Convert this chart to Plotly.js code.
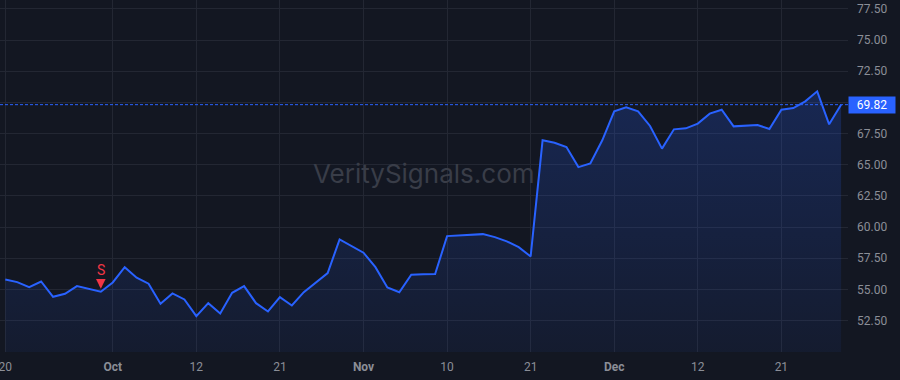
<!DOCTYPE html>
<html><head><meta charset="utf-8">
<script src="https://cdn.plot.ly/plotly-3.0.1.min.js"></script>
<style>html,body{margin:0;padding:0;background:#131722;}#chart{width:900px;height:380px;}</style>
</head><body><div id="chart"></div>
<script>
// closing prices, one per trading session (index = session number)
const prices = [55.79,55.58,55.17,55.63,54.40,54.64,55.26,55.01,54.81,55.55,56.78,55.93,
  55.45,53.84,54.67,54.19,52.85,53.89,53.06,54.72,55.26,53.89,53.22,54.37,
  53.70,54.77,55.53,56.30,59.01,58.47,57.94,56.78,55.15,54.77,56.17,56.20,
  56.22,59.27,59.31,59.38,59.43,59.19,58.85,58.39,57.64,66.96,66.76,66.42,
  64.81,65.11,66.96,69.29,69.61,69.29,68.11,66.29,67.84,67.92,68.30,69.10,
  69.41,68.08,68.11,68.19,67.87,69.42,69.55,70.09,70.89,68.24,69.82];
const tickIdx  = [0, 9, 16, 23, 30, 37, 44, 51, 58, 65];
const tickText = ['20','<b>Oct</b>','12','21','<b>Nov</b>','10','21','<b>Dec</b>','12','21'];
const yTicks   = [52.5,55,57.5,60,62.5,65,67.5,70,72.5,75,77.5];
const yTickText = ['52.50','55.00','57.50','60.00','62.50','65.00','67.50','','72.50','75.00','77.50'];
const signalIdx  = [8];
const signalText = ['S'];
const watermark = 'VeritySignals.com';

const lastPrice = prices[prices.length-1];
const yRange = [49.97, 78.22];
const xIdx = prices.map((_, i) => i);

const trace = {
  x: xIdx, y: prices, type: 'scatter', mode: 'lines',
  line: {color: '#2962ff', width: 2},
  fill: 'tozeroy',
  fillgradient: {type: 'vertical', start: yRange[0], stop: Math.max(...prices),
    colorscale: [[0, 'rgba(41,98,255,0.06)'], [1, 'rgba(41,98,255,0.22)']]},
  hoverinfo: 'skip'
};

const annotations = [
  {xref: 'paper', yref: 'paper', x: 0.5, y: 0.5, yshift: 3, text: watermark, showarrow: false,
   font: {family: 'Inter, Roboto, sans-serif', size: 26, color: '#393d48'}},
  {xref: 'paper', yref: 'y', x: 1, xanchor: 'left', y: lastPrice, text: lastPrice.toFixed(2), showarrow: false,
   bgcolor: '#2962ff', borderpad: 1, width: 44, align: 'center',
   font: {family: 'Roboto, sans-serif', size: 12, color: '#ffffff'}}
];
signalIdx.forEach((idx, k) => {
  annotations.push({x: xIdx[idx], y: prices[idx], xref: 'x', yref: 'y', text: signalText[k],
    showarrow: false, yshift: 22, font: {family: 'Roboto, sans-serif', size: 14, color: '#f23645'}});
  annotations.push({x: xIdx[idx], y: prices[idx], xref: 'x', yref: 'y', text: '',
    showarrow: true, arrowhead: 2, arrowsize: 0.8, arrowwidth: 2.4, arrowcolor: '#f23645',
    ax: 0, ay: -14, standoff: 3});
});

const layout = {
  width: 900, height: 380,
  paper_bgcolor: '#131722', plot_bgcolor: '#131722',
  margin: {l: 0, r: 52, t: 0, b: 28},
  showlegend: false,
  font: {family: 'Roboto, sans-serif', size: 12, color: '#8b8e97'},
  xaxis: {range: [-0.444, 70.58], tickmode: 'array', tickvals: tickIdx, ticktext: tickText,
    showgrid: true, gridcolor: '#232733', gridwidth: 1, zeroline: false, showline: false,
    ticks: '', ticklabelstandoff: 6, ticklabeloverflow: 'allow', fixedrange: true,
    tickfont: {size: 12, color: '#8b8e97'}},
  yaxis: {side: 'right', range: yRange, tickmode: 'array', tickvals: yTicks, ticktext: yTickText,
    showgrid: true, gridcolor: '#232733', gridwidth: 1, zeroline: false, showline: false,
    ticks: '', ticklabelstandoff: 8, ticklabeloverflow: 'allow', fixedrange: true,
    tickfont: {size: 12, color: '#8b8e97'}},
  shapes: [{type: 'line', xref: 'paper', x0: 0, x1: 1, yref: 'y', y0: lastPrice, y1: lastPrice,
    line: {color: '#2962ff', width: 1, dash: '3px,2px'}}],
  annotations: annotations
};

Plotly.newPlot('chart', [trace], layout, {staticPlot: true, displayModeBar: false});
</script>
</body></html>
